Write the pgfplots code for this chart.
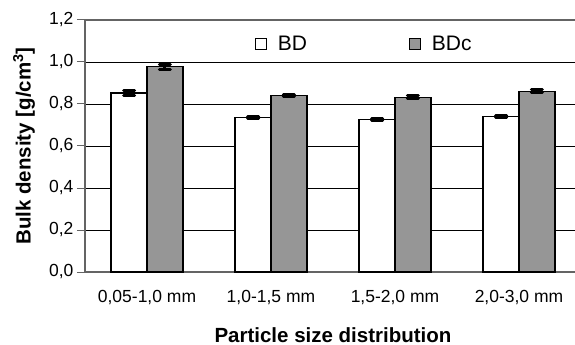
\documentclass[border=0pt]{standalone}
\usepackage{fontspec}
\setmainfont{Liberation Sans}
\usepackage{pgfplots}
\pgfplotsset{compat=1.18}
\definecolor{barGray}{RGB}{150,150,150}
\definecolor{axGray}{RGB}{100,100,100}
\begin{document}
\begin{tikzpicture}
\useasboundingbox (-85pt,-73pt) rectangle (490pt,272pt);
\begin{axis}[
  at={(0,0)}, anchor=south west,
  scale only axis, width=496pt, height=252pt,
  xmin=-0.5, xmax=3.5, ymin=0, ymax=1.2,
  ytick={0,0.2,0.4,0.6,0.8,1.0,1.2},
  xtick={0,1,2,3},
  xticklabels={{0,05-1,0 mm},{1,0-1,5 mm},{1,5-2,0 mm},{2,0-3,0 mm}},
  x tick style={draw=none},
  extra x ticks={0.5,1.5,2.5},
  extra x tick labels={},
  extra x tick style={grid=none, major tick length=6pt, tick align=outside, tick style={draw=axGray, line width=1pt}},
  xtick pos=bottom, ytick pos=left,
  ytick align=outside, major tick length=8pt,
  y tick style={draw=axGray, line width=1pt},
  ymajorgrids, grid style={black, line width=0.8pt},
  axis line style={axGray, line width=1.3pt},
  ticklabel style={font=\fontsize{17.5}{20}\selectfont},
  yticklabel style={/pgf/number format/.cd, fixed, fixed zerofill, precision=1, use comma, assume math mode=true},
  xticklabel style={anchor=north, yshift=-15pt},
  xlabel={\bfseries Particle size distribution},
  ylabel={\bfseries Bulk density [g/cm$^{\mathbf 3}$]},
  label style={font=\fontsize{20.5}{24}\selectfont\bfseries},
  xlabel style={at={(axis description cs:0.5,-0.2778)}, anchor=base},
  ylabel style={at={(axis description cs:-0.123,0.5)}, anchor=center},
  bar width=0.29,
  legend columns=2,
  legend style={draw=none, fill=none, at={(rel axis cs:0.3427,0.9048)}, anchor=west, inner sep=0pt,
    font=\fontsize{21}{24}\selectfont,
    /tikz/every odd column/.append style={column sep=9pt},
    /tikz/every even column/.append style={column sep=100pt}},
  legend image code/.code={\draw[#1, draw=black, line width=0.8pt] (0pt,-5.5pt) rectangle (11pt,5.5pt);},
  error bars/error bar style={black, line width=3pt},
  error bars/error mark=|,
  error bars/error mark options={black, line width=3pt, mark size=5.5pt, line cap=round},
]
\addplot[ybar, bar shift=0, fill=white, draw=black, line width=1.2pt,
  error bars/.cd, y dir=both, y explicit]
  coordinates {(-0.145,0.852) +- (0,0.012) (0.855,0.735) +- (0,0.006) (1.855,0.727) +- (0,0.004) (2.855,0.740) +- (0,0.006)};
\addlegendentry{BD}
\addplot[ybar, bar shift=0, fill=barGray, draw=black, line width=1.2pt,
  error bars/.cd, y dir=both, y explicit]
  coordinates {(0.145,0.978) +- (0,0.012) (1.145,0.840) +- (0,0.006) (2.145,0.832) +- (0,0.007) (3.145,0.860) +- (0,0.007)};
\addlegendentry{BDc}
\end{axis}
\end{tikzpicture}
\end{document}
